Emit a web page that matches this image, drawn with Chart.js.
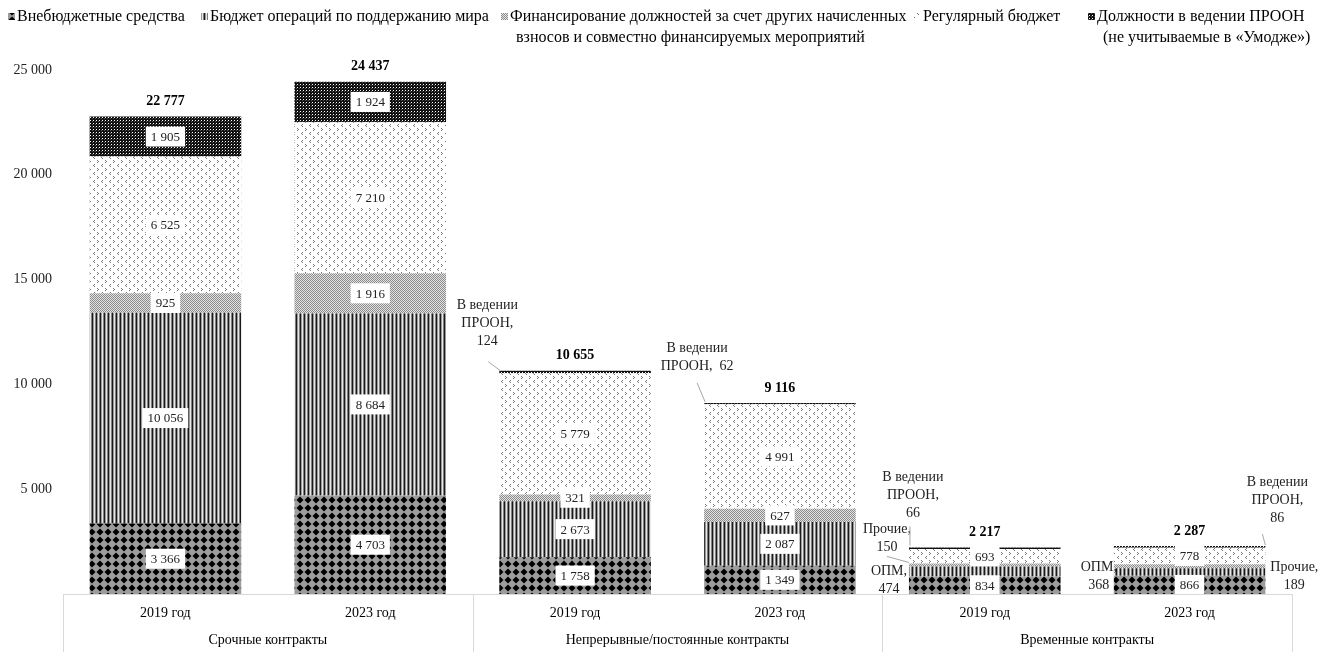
<!DOCTYPE html>
<html>
<head>
<meta charset="utf-8">
<script src="https://cdn.jsdelivr.net/npm/chart.js@4.4.0/dist/chart.umd.min.js"></script>
<style>
  body { margin: 0; background: #fff; }
  #wrap { width: 1320px; height: 652px; }
</style>
</head>
<body>
<div id="wrap"><canvas id="myChart" width="1320" height="652"></canvas></div>
<script>
// Data ==================================================================
var years = ['2019 год', '2023 год', '2019 год', '2023 год', '2019 год', '2023 год'];
var groups = ['Срочные контракты', 'Непрерывные/постоянные контракты', 'Временные контракты'];

var extraBudget   = [3366, 4703, 1758, 1349, 834, 866];
var peacekeeping  = [10056, 8684, 2673, 2087, 474, 368];
var otherAssessed = [925, 1916, 321, 627, 150, 189];
var regularBudget = [6525, 7210, 5779, 4991, 693, 778];
var undpPosts     = [1905, 1924, 124, 62, 66, 86];

var seriesNames = [
  ['Внебюджетные средства'],
  ['Бюджет операций по поддержанию мира'],
  ['Финансирование должностей за счет других начисленных', 'взносов и совместно финансируемых мероприятий'],
  ['Регулярный бюджет'],
  ['Должности в ведении ПРООН', '(не учитываемые в «Умодже»)']
];

var yTicks = [0, 5000, 10000, 15000, 20000, 25000];

// Helpers ===============================================================
var canvas = document.getElementById('myChart');
var ctx = canvas.getContext('2d');
var serif = '"Liberation Serif", "Times New Roman", serif';

function fmt(v) {
  return String(v).replace(/\B(?=(\d{3})+(?!\d))/g, ' ');
}

function makePattern(w, h, draw) {
  var c = document.createElement('canvas');
  c.width = w; c.height = h;
  var g = c.getContext('2d');
  draw(g);
  return ctx.createPattern(c, 'repeat');
}

function px(g, x, y, col) { g.fillStyle = col; g.fillRect(x, y, 1, 1); }

// diamonds on grey
var patExtra = makePattern(8, 8, function(g) {
  g.fillStyle = '#9c9c9c'; g.fillRect(0, 0, 8, 8);
  g.fillStyle = '#000';
  g.beginPath(); g.moveTo(4, 0.5); g.lineTo(7.5, 4); g.lineTo(4, 7.5); g.lineTo(0.5, 4); g.closePath(); g.fill();
});
// vertical stripes
var patPeace = makePattern(4, 1, function(g) {
  var cols = ['#1a1a1a', '#999', '#e8e8e8', '#808080'];
  for (var i = 0; i < 4; i++) px(g, i, 0, cols[i]);
});
// fine dots
var patOther = makePattern(2, 2, function(g) {
  px(g, 0, 0, '#8c8c8c'); px(g, 1, 1, '#8c8c8c');
  px(g, 1, 0, '#e2e2e2'); px(g, 0, 1, '#e2e2e2');
});
// small chevrons on white
var patRegular = makePattern(8, 8, function(g) {
  g.fillStyle = '#fff'; g.fillRect(0, 0, 8, 8);
  var c = '#7a7a7a';
  px(g, 1, 0, c); px(g, 2, 1, c); px(g, 1, 2, c);
  px(g, 6, 4, c); px(g, 5, 5, c); px(g, 6, 6, c);
});
// dark mesh
var patUndp = makePattern(3, 3, function(g) {
  g.fillStyle = '#111'; g.fillRect(0, 0, 3, 3);
  px(g, 0, 0, '#fff'); px(g, 2, 1, '#555');
});

var patterns = [patExtra, patPeace, patOther, patRegular, patUndp];
var series = [extraBudget, peacekeeping, otherAssessed, regularBudget, undpPosts];

// small segments labelled outside the bar (bar index, dataset index)
var callouts = [
  { bar: 2, ds: 4, text: function(v) { return ['В ведении', 'ПРООН,', String(v)]; },
    side: 'left', dx: -12, dy: -65, lead: [-11, -9, 1, 0] },
  { bar: 3, ds: 4, text: function(v) { return ['В ведении', 'ПРООН,  ' + v]; },
    side: 'left', dx: -7, dy: -55, lead: [-7, -20, 1, -1] },
  { bar: 4, ds: 4, text: function(v) { return ['В ведении', 'ПРООН,', String(v)]; },
    side: 'left', dx: 4, dy: -70, lead: [1, -21, 1, -2] },
  { bar: 4, ds: 2, text: function(v) { return ['Прочие,', String(v)]; },
    side: 'left', dx: -22, dy: -34, lead: [-22, -7, 0, -1] },
  { bar: 4, ds: 1, text: function(v) { return ['ОПМ,', String(v)]; },
    side: 'left', dx: -20, dy: 5 },
  { bar: 5, ds: 1, text: function(v) { return ['ОПМ,', String(v)]; },
    side: 'left', dx: -15, dy: -1 },
  { bar: 5, ds: 2, text: function(v) { return ['Прочие,', String(v)]; },
    side: 'right', dx: 29, dy: 3 },
  { bar: 5, ds: 4, text: function(v) { return ['В ведении', 'ПРООН,', String(v)]; },
    side: 'right', dx: 12, dy: -64, lead: [-3, -12, 0, -1] }
];

function findCallout(bar, ds) {
  for (var i = 0; i < callouts.length; i++) {
    if (callouts[i].bar === bar && callouts[i].ds === ds) return callouts[i];
  }
  return null;
}

// Plugins ===============================================================
var labelsPlugin = {
  id: 'segLabels',
  afterDatasetsDraw: function(chart) {
    var c = chart.ctx;
    c.save();
    c.textAlign = 'center';
    c.textBaseline = 'middle';
    chart.data.datasets.forEach(function(ds, di) {
      var meta = chart.getDatasetMeta(di);
      meta.data.forEach(function(el, bi) {
        var v = ds.data[bi];
        var co = findCallout(bi, di);
        if (co) {
          var edge = co.side === 'left' ? el.x - el.width / 2 : el.x + el.width / 2;
          var top = el.y;
          c.font = '14px ' + serif;
          c.fillStyle = '#222';
          co.text(v).forEach(function(line, li) {
            c.fillText(line, edge + co.dx, top + co.dy + li * 18);
          });
          if (co.lead) {
            c.strokeStyle = '#a6a6a6';
            c.lineWidth = 1;
            c.beginPath();
            c.moveTo(edge + co.lead[0], top + co.lead[1]);
            c.lineTo(edge + co.lead[2], top + co.lead[3]);
            c.stroke();
          }
          return;
        }
        c.font = '13px ' + serif;
        var t = fmt(v);
        var w = c.measureText(t).width + 10;
        var cy = (el.y + el.base) / 2;
        c.fillStyle = '#fff';
        c.fillRect(el.x - w / 2, cy - 10, w, 20);
        c.fillStyle = '#222';
        c.fillText(t, el.x, cy + 1);
      });
    });

    // totals
    var last = chart.getDatasetMeta(chart.data.datasets.length - 1);
    c.font = 'bold 14px ' + serif;
    c.fillStyle = '#000';
    last.data.forEach(function(el, bi) {
      var total = 0;
      series.forEach(function(s) { total += s[bi]; });
      c.fillText(fmt(total), el.x, el.y - 15);
    });
    c.restore();
  },
  afterDraw: function(chart) {
    var c = chart.ctx;
    var area = chart.chartArea;
    var xs = chart.scales.x;
    var catW = (area.right - area.left) / years.length;
    c.save();
    // category table
    c.strokeStyle = '#d9d9d9';
    c.lineWidth = 1;
    c.beginPath();
    c.moveTo(area.left, area.bottom + 0.5);
    c.lineTo(area.right, area.bottom + 0.5);
    for (var g = 0; g <= groups.length; g++) {
      var gx = Math.round(area.left + g * 2 * catW) + 0.5;
      c.moveTo(gx, area.bottom);
      c.lineTo(gx, chart.height);
    }
    c.stroke();
    c.font = '14px ' + serif;
    c.fillStyle = '#000';
    c.textAlign = 'center';
    c.textBaseline = 'middle';
    years.forEach(function(y, i) {
      c.fillText(y, xs.getPixelForValue(i), area.bottom + 19);
    });
    groups.forEach(function(gname, i) {
      c.fillText(gname, area.left + (2 * i + 1) * catW, area.bottom + 46);
    });

    // legend
    var starts = [17, 210, 510, 923, 1097];
    c.font = '16px ' + serif;
    c.textAlign = 'left';
    seriesNames.forEach(function(lines, i) {
      c.fillStyle = patterns[i];
      c.fillRect(starts[i] - 9, 13, 7, 7);
      c.fillStyle = '#000';
      c.fillText(lines[0], starts[i], 17);
      if (lines[1]) {
        c.fillText(lines[1], starts[i] + 6, 38);
      }
    });
    c.restore();
  }
};

// Chart =================================================================
var myChart = new Chart(ctx, {
  type: 'bar',
  data: {
    labels: years,
    datasets: series.map(function(s, i) {
      return {
        label: seriesNames[i].join(' '),
        data: s,
        backgroundColor: patterns[i],
        borderWidth: 0,
        categoryPercentage: 1,
        barPercentage: 0.74
      };
    })
  },
  options: {
    responsive: false,
    animation: false,
    layout: { padding: { top: 70, bottom: 58, left: 0, right: 28 } },
    plugins: {
      legend: { display: false },
      tooltip: { enabled: false }
    },
    scales: {
      x: { stacked: true, display: false },
      y: {
        stacked: true,
        min: 0,
        max: 25000,
        afterBuildTicks: function(scale) {
          scale.ticks = yTicks.map(function(v) { return { value: v }; });
        },
        afterFit: function(scale) { scale.width = 63; },
        grid: { display: false, drawTicks: false },
        border: { display: false },
        ticks: {
          padding: 11,
          color: '#222',
          font: { family: serif, size: 14 },
          callback: function(v) { return v === 0 ? '' : fmt(v); }
        }
      }
    }
  },
  plugins: [labelsPlugin]
});
</script>
</body>
</html>
